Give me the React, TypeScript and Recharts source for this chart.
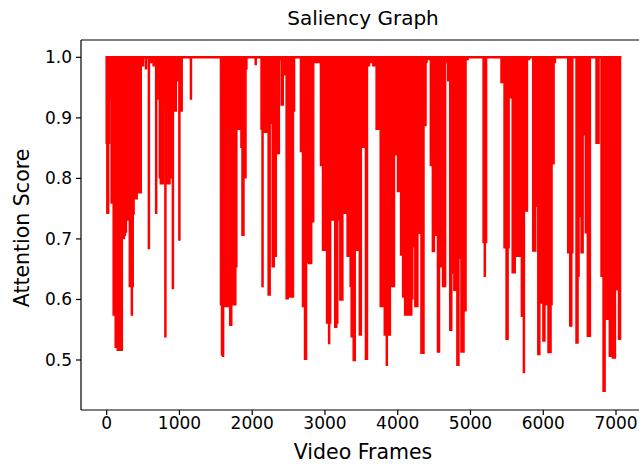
import { LineChart, Line, XAxis, YAxis, ReferenceLine } from "recharts"

// attention dips per stretch of the video: [frame, score], score is 1.0 elsewhere
const dipsA: [number, number][] = [
  [0, 0.857], [9, 0.741], [20, 0.741], [32, 0.857], [41, 0.93], [55, 0.93], [68, 0.758], [82, 0.758],
  [96, 0.573], [110, 0.573], [124, 0.52], [138, 0.52], [152, 0.515], [166, 0.515], [180, 0.515], [194, 0.52],
  [208, 0.515], [222, 0.7], [236, 0.7], [250, 0.705], [264, 0.71], [278, 0.73], [292, 0.73], [306, 0.93],
  [318, 0.62], [332, 0.62], [346, 0.573], [358, 0.62], [370, 0.74], [384, 0.765], [398, 0.77], [412, 0.765],
  [426, 0.775], [440, 0.775], [454, 0.78], [468, 0.775], [500, 0.985], [540, 0.98], [580, 0.683], [615, 0.99],
  [645, 0.985], [680, 0.741], [700, 0.93], [716, 0.93], [730, 0.8], [744, 0.79], [758, 0.93], [772, 0.79],
  [790, 0.92], [807, 0.537], [822, 0.79], [836, 0.79], [850, 0.93], [864, 0.79], [878, 0.8], [892, 0.93],
  [910, 0.617], [930, 0.91], [950, 0.91], [970, 0.96], [999, 0.697], [1015, 0.91], [1031, 0.91], [1158, 0.93],
]

const dipsB: [number, number][] = [
  [1571, 0.59], [1585, 0.507], [1600, 0.505], [1614, 0.59], [1628, 0.587], [1642, 0.59], [1656, 0.587],
  [1670, 0.59], [1684, 0.587], [1698, 0.556], [1712, 0.556], [1726, 0.59], [1740, 0.59], [1754, 0.59],
  [1768, 0.59], [1782, 0.653], [1796, 0.88], [1810, 0.88], [1824, 0.92], [1838, 0.88], [1852, 0.85],
  [1866, 0.705], [1880, 0.705], [1894, 0.8], [1908, 0.8], [1920, 0.98],
]

const dipsC: [number, number][] = [
  [2048, 0.987], [2128, 0.88], [2142, 0.62], [2156, 0.88], [2170, 0.875], [2184, 0.875], [2198, 0.96],
  [2212, 0.875], [2226, 0.606], [2240, 0.606], [2254, 0.89], [2268, 0.89], [2282, 0.653], [2296, 0.653],
  [2310, 0.67], [2324, 0.67], [2338, 0.84], [2352, 0.84], [2366, 0.84], [2385, 0.995], [2405, 0.92],
  [2420, 0.92], [2440, 0.97], [2458, 0.97], [2473, 0.6], [2487, 0.6], [2501, 0.603], [2515, 0.603],
  [2530, 0.603], [2545, 0.603], [2560, 0.603], [2575, 0.91],
]

const dipsD: [number, number][] = [
  [2670, 0.843], [2684, 0.843], [2698, 0.587], [2712, 0.587], [2726, 0.5], [2740, 0.5], [2754, 0.758],
  [2768, 0.66], [2782, 0.658], [2796, 0.658], [2810, 0.658], [2824, 0.727], [2838, 0.727], [2853, 0.99],
  [2880, 0.99], [2905, 0.99], [2931, 0.99],
  [2945, 0.82], [2959, 0.82], [2973, 0.68], [2987, 0.68], [3001, 0.68], [3015, 0.68], [3029, 0.56],
  [3043, 0.56], [3057, 0.526], [3071, 0.56], [3085, 0.73], [3099, 0.73], [3113, 0.73], [3127, 0.92],
  [3141, 0.553], [3155, 0.553], [3169, 0.56], [3183, 0.73], [3197, 0.73],
]

const dipsE: [number, number][] = [
  [3211, 0.598], [3225, 0.598], [3239, 0.598], [3253, 0.741], [3267, 0.741], [3281, 0.741], [3297, 0.93],
  [3311, 0.67], [3325, 0.67], [3339, 0.67], [3353, 0.62], [3367, 0.537], [3381, 0.537], [3395, 0.498],
  [3409, 0.498], [3423, 0.68], [3437, 0.68], [3451, 0.68], [3465, 0.68], [3479, 0.54], [3493, 0.54],
  [3507, 0.85], [3521, 0.85], [3535, 0.85], [3549, 0.95], [3563, 0.5], [3577, 0.5], [3591, 0.985],
  [3605, 0.985], [3630, 0.99], [3664, 0.985], [3680, 0.985], [3710, 0.88], [3724, 0.88], [3738, 0.88],
  [3752, 0.88], [3766, 0.587], [3780, 0.587], [3794, 0.587], [3808, 0.587],
]

const dipsF: [number, number][] = [
  [3822, 0.54], [3836, 0.54], [3850, 0.49], [3864, 0.54], [3878, 0.54], [3892, 0.54], [3906, 0.62],
  [3920, 0.62], [3934, 0.62], [3948, 0.62], [3962, 0.838], [3976, 0.838], [3990, 0.838], [4004, 0.777],
  [4018, 0.777], [4032, 0.777], [4046, 0.672], [4060, 0.672], [4074, 0.603], [4088, 0.603], [4102, 0.573],
  [4116, 0.573], [4130, 0.97], [4144, 0.573], [4158, 0.573], [4172, 0.573], [4186, 0.573], [4200, 0.6],
  [4214, 0.686], [4228, 0.686], [4242, 0.587], [4256, 0.587], [4270, 0.587], [4284, 0.93], [4298, 0.708],
  [4312, 0.708], [4326, 0.51], [4340, 0.51], [4354, 0.51], [4368, 0.886], [4382, 0.886], [4396, 0.99],
  [4420, 0.995], [4440, 0.995], [4455, 0.82], [4469, 0.82], [4483, 0.678], [4497, 0.678], [4511, 0.705],
  [4525, 0.705], [4539, 0.705], [4553, 0.512], [4567, 0.512], [4581, 0.95], [4595, 0.653], [4609, 0.653],
  [4623, 0.62], [4637, 0.62], [4651, 0.62], [4665, 0.99], [4680, 0.99], [4694, 0.96], [4708, 0.96],
  [4722, 0.548], [4736, 0.548], [4750, 0.642], [4764, 0.642], [4778, 0.614], [4792, 0.614], [4806, 0.614],
  [4820, 0.49], [4834, 0.49], [4848, 0.667], [4862, 0.667], [4876, 0.512], [4890, 0.512], [4904, 0.512],
  [4918, 0.58], [4932, 0.58], [4946, 0.995], [4960, 0.995],
]

const dipsG: [number, number][] = [
  [5180, 0.693], [5197, 0.637], [5214, 0.693],
  [5426, 0.957], [5440, 0.957], [5454, 0.957], [5468, 0.684], [5482, 0.684], [5496, 0.533], [5510, 0.533],
  [5524, 0.684], [5538, 0.932], [5552, 0.932], [5566, 0.98], [5580, 0.643], [5594, 0.643], [5608, 0.643],
  [5622, 0.7], [5636, 0.67], [5650, 0.67], [5664, 0.83], [5678, 0.67], [5692, 0.67], [5706, 0.571],
  [5720, 0.571], [5734, 0.478], [5748, 0.745], [5762, 0.745], [5776, 0.745], [5790, 0.995], [5805, 0.995],
  [5862, 0.679], [5876, 0.679], [5890, 0.679], [5904, 0.753], [5918, 0.753], [5932, 0.508], [5946, 0.508],
  [5960, 0.593], [5974, 0.593], [5988, 0.593], [6002, 0.53], [6016, 0.53], [6030, 0.59], [6044, 0.59],
  [6058, 0.59], [6072, 0.511], [6086, 0.511], [6100, 0.511], [6114, 0.59], [6128, 0.823], [6142, 0.823],
  [6160, 0.99],
]

const dipsH: [number, number][] = [
  [6343, 0.676], [6357, 0.676], [6371, 0.555], [6385, 0.555], [6399, 0.676], [6457, 0.527], [6471, 0.527],
  [6485, 0.637], [6499, 0.736], [6513, 0.736], [6527, 0.676], [6541, 0.676], [6555, 0.871], [6569, 0.871],
  [6585, 0.709], [6599, 0.709], [6613, 0.538], [6627, 0.538], [6641, 0.538], [6732, 0.857], [6746, 0.857],
  [6760, 0.857], [6801, 0.637], [6815, 0.637], [6829, 0.447], [6843, 0.447], [6857, 0.566], [6871, 0.566],
  [6885, 0.566], [6899, 0.566], [6915, 0.505], [6929, 0.505], [6943, 0.72], [6957, 0.502], [6971, 0.502],
  [6985, 0.502], [6999, 0.615], [7013, 0.615], [7027, 0.615], [7041, 0.533], [7055, 0.533], [7075, 1],
]

const xTicks = [0, 1000, 2000, 3000, 4000, 5000, 6000, 7000]
const yTicks = [0.5, 0.6, 0.7, 0.8, 0.9, 1.0]
const xDomain = [-353, 7412]
const yDomain = [0.4174, 1.0286]

// each dip drops from the 1.0 baseline and comes back
const points: { frame: number; score: number }[] = []
;[dipsA, dipsB, dipsC, dipsD, dipsE, dipsF, dipsG, dipsH].forEach((dips) => {
  dips.forEach(([frame, score]) => {
    points.push({ frame, score: 1 }, { frame, score }, { frame, score: 1 })
  })
})

const font = "'DejaVu Sans', sans-serif"
const tickStyle = { fontSize: 17, fill: "#000", fontFamily: font }

export default function App() {
  return (
    // fixed so the plot may run past the right edge, like the original
    <div style={{ position: "fixed", left: 0, top: 0, width: 639, height: 464, overflow: "hidden", fontFamily: font, background: "#fff" }}>
      <div style={{ position: "absolute", left: 213, top: 8, width: 300, textAlign: "center", fontSize: 20, lineHeight: "20px" }}>
        Saliency Graph
      </div>
      <div style={{ position: "absolute", left: 213, top: 442, width: 300, textAlign: "center", fontSize: 20.5, lineHeight: "20px" }}>
        Video Frames
      </div>
      <div
        style={{
          position: "absolute",
          left: 22 - 110,
          top: 228 - 10,
          width: 220,
          textAlign: "center",
          fontSize: 20.5,
          lineHeight: "20px",
          transform: "rotate(-90deg)",
        }}
      >
        Attention Score
      </div>
      <LineChart width={660} height={464} data={points} margin={{ top: 40, right: 14, left: 31, bottom: 14 }}>
        <XAxis
          dataKey="frame"
          type="number"
          domain={xDomain}
          ticks={xTicks}
          allowDataOverflow
          height={40}
          tick={tickStyle}
          tickSize={5}
          tickMargin={2}
          stroke="#000"
          strokeWidth={1.2}
        />
        <YAxis
          type="number"
          domain={yDomain}
          ticks={yTicks}
          allowDataOverflow
          width={50}
          tick={tickStyle}
          tickSize={5}
          tickMargin={4}
          tickFormatter={(v: number) => v.toFixed(1)}
          stroke="#000"
          strokeWidth={1.2}
        />
        <ReferenceLine y={yDomain[1]} stroke="#000" strokeWidth={1.2} />
        <Line
          type="linear"
          dataKey="score"
          stroke="#ff0000"
          strokeWidth={2.5}
          dot={false}
          isAnimationActive={false}
        />
      </LineChart>
    </div>
  )
}
